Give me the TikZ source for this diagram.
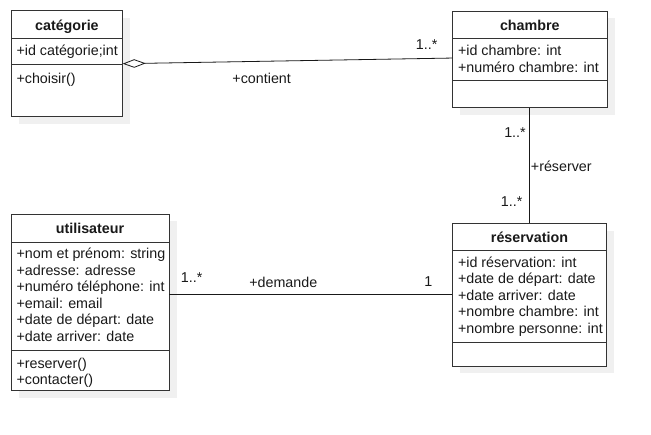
\documentclass[tikz,border=0pt]{standalone}
\usepackage{fontspec}
\setmainfont{Liberation Sans}
\usetikzlibrary{arrows.meta}
\definecolor{linec}{HTML}{333333}
\definecolor{shadowc}{HTML}{F0F0F0}
\tikzset{
  classbox/.style={draw=linec, line width=0.9pt, fill=white, rectangle, anchor=north west, inner sep=0pt, outer sep=0pt},
  shadowbox/.style={fill=shadowc, draw=none, rectangle, anchor=north west, inner sep=0pt, outer sep=0pt},
  title/.style={font=\fontsize{14.3}{16}\selectfont\bfseries, anchor=base, inner sep=0pt, text=black!90},
  attr/.style={font=\fontsize{14.3}{16}\selectfont, anchor=base west, inner sep=0pt, text=black!90},
  lbl/.style={font=\fontsize{14.3}{16}\selectfont, inner sep=0pt, text=black!90},
  sep/.style={draw=linec, line width=0.9pt},
  conn/.style={draw=black!90, line width=0.8pt},
}
\begin{document}
\begin{tikzpicture}[x=1pt,y=-1pt]
\useasboundingbox (0,0) rectangle (651,435);
% shadows
\node[shadowbox, minimum width=111.7pt, minimum height=106pt] (catsh) at (18.5,18.2) {};
\node[shadowbox, minimum width=155pt, minimum height=96.7pt] (chamsh) at (459.8,18.5) {};
\node[shadowbox, minimum width=154.4pt, minimum height=142.7pt] (ressh) at (459.8,230.8) {};
\node[shadowbox, minimum width=158pt, minimum height=176.7pt] (utilsh) at (18.5,221.5) {};
% boxes
\node[classbox, minimum width=111.7pt, minimum height=106pt] (cat) at (11,10.7) {};
\node[classbox, minimum width=155pt, minimum height=96.7pt] (cham) at (452.3,11) {};
\node[classbox, minimum width=154.4pt, minimum height=142.7pt] (res) at (452.3,223.3) {};
\node[classbox, minimum width=158pt, minimum height=176.7pt] (util) at (11,214) {};
% separators
\draw[sep] (cat.west |- 0,38.3) -- (cat.east |- 0,38.3);
\draw[sep] (cat.west |- 0,64) -- (cat.east |- 0,64);
\draw[sep] (cham.west |- 0,38.3) -- (cham.east |- 0,38.3);
\draw[sep] (cham.west |- 0,80) -- (cham.east |- 0,80);
\draw[sep] (res.west |- 0,250.7) -- (res.east |- 0,250.7);
\draw[sep] (res.west |- 0,342.3) -- (res.east |- 0,342.3);
\draw[sep] (util.west |- 0,242.3) -- (util.east |- 0,242.3);
\draw[sep] (util.west |- 0,350) -- (util.east |- 0,350);
% titles
\node[title] (catt) at (66.9,31) {catégorie};
\node[title] (chamt) at (529.8,31) {chambre};
\node[title] (rest) at (529.5,242.7) {réservation};
\node[title] (utilt) at (90,234) {utilisateur};
% catégorie
\node[attr] (cat1) at (16.3,55.7) {+id catégorie;int};
\node[attr] (cat2) at (16.3,84) {+choisir()};
% chambre
\node[attr] (cham1) at (457.8,55.7) {+id chambre: int};
\node[attr] (cham2) at (457.8,72.4) {+numéro chambre: int};
% réservation
\node[attr] (res1) at (457.8,267.3) {+id réservation: int};
\node[attr] (res2) at (457.8,283.8) {+date de départ: date};
\node[attr] (res3) at (457.8,300.3) {+date arriver: date};
\node[attr] (res4) at (457.8,316.8) {+nombre chambre: int};
\node[attr] (res5) at (457.8,333.3) {+nombre personne: int};
% utilisateur
\node[attr] (u1) at (16.3,258.5) {+nom et prénom: string};
\node[attr] (u2) at (16.3,275.1) {+adresse: adresse};
\node[attr] (u3) at (16.3,291.7) {+numéro téléphone: int};
\node[attr] (u4) at (16.3,308.3) {+email: email};
\node[attr] (u5) at (16.3,324.9) {+date de départ: date};
\node[attr] (u6) at (16.3,341.5) {+date arriver: date};
\node[attr] (u7) at (16.3,368.3) {+reserver()};
\node[attr] (u8) at (16.3,384.5) {+contacter()};
% connectors
\draw[conn, {Diamond[open, length=23pt, width=8.5pt, line width=0.8pt]}-] (cat.east) -- ([yshift=1.3pt]cham.west);
\draw[conn] (cham.south) -- (cham.south |- res.north);
\draw[conn] (res.west) -- (util.east |- res.west);
% labels
\node[lbl] (lcont) at (261.7,78.3) {+contient};
\node[lbl] (lm1) at (426.7,45) {1..*};
\node[lbl] (lm2) at (515,132.5) {1..*};
\node[lbl, anchor=west] (lres) at (530.7,166.7) {+réserver};
\node[lbl] (lm3) at (511.7,202) {1..*};
\node[lbl] (lone) at (428.3,281.5) {1};
\node[lbl] (lm4) at (191.7,278) {1..*};
\node[lbl] (ldem) at (283.3,282.7) {+demande};
\end{tikzpicture}
\end{document}
